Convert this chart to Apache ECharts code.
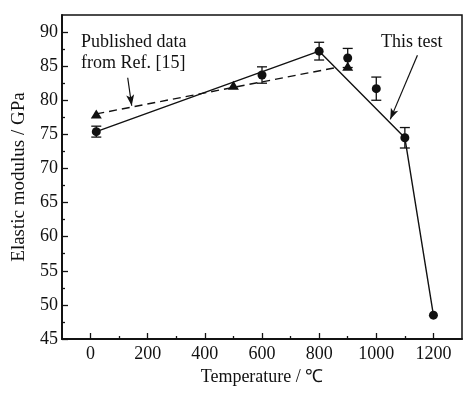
<!DOCTYPE html>
<html>
<head>
<meta charset="utf-8">
<script src="https://cdn.jsdelivr.net/npm/echarts@6/dist/echarts.min.js"></script>
<style>html,body{margin:0;padding:0;background:#fff}#c{width:471px;height:395px}</style>
</head>
<body>
<div id="c"></div>
<script>
// This test (circles with error bars)
const testTemps = [20, 600, 800, 900, 1000, 1100, 1200];
const testModulus = [75.4, 83.7, 87.2, 86.2, 81.7, 74.5, 48.5];
const testErrors = [0.8, 1.2, 1.3, 1.4, 1.7, 1.5, 0];
// Published data from Ref. [15] (triangles)
const refTemps = [20, 500, 900];
const refModulus = [78.0, 82.2, 85.0];
// Trend lines
const testLineTemps = [20, 800, 1100, 1200];
const testLineModulus = [75.4, 87.2, 74.5, 48.5];
const refLineTemps = [20, 860];
const refLineModulus = [78.0, 84.8];
// Ticks
const xMajorTicks = [0, 200, 400, 600, 800, 1000, 1200];
const xMinorTicks = [100, 300, 500, 700, 900, 1100];
const yMajorTicks = [45, 50, 55, 60, 65, 70, 75, 80, 85, 90];
const yMinorTicks = [47.5, 52.5, 57.5, 62.5, 67.5, 72.5, 77.5, 82.5, 87.5];
// Annotation arrows [from, to]
const refArrow = [[130, 83.3], [144, 79.2]];
const testArrow = [[1144, 86.6], [1049, 77.2]];

const FONT = 'Liberation Serif';
const INK = '#111';
const zip = (a, b) => a.map((v, i) => [v, b[i]]);

const chart = echarts.init(document.getElementById('c'), null, {renderer: 'canvas'});
const baseX = {type: 'value', min: -100, max: 1300, splitLine: {show: false}};
const baseY = {type: 'value', min: 45, max: 92.5, splitLine: {show: false}};
chart.setOption({
  animation: false,
  backgroundColor: '#fff',
  grid: {left: 62, right: 9, top: 15, bottom: 56, show: true, borderColor: INK, borderWidth: 1.5, backgroundColor: 'transparent'},
  xAxis: [
    Object.assign({}, baseX, {
      position: 'bottom',
      name: 'Temperature / ℃', nameLocation: 'middle', nameGap: 26,
      nameTextStyle: {fontFamily: FONT, fontSize: 18, color: INK},
      axisLine: {show: true, onZero: false, lineStyle: {color: INK, width: 1.5}},
      axisTick: {show: true, inside: true, length: 6, customValues: xMajorTicks, lineStyle: {color: INK, width: 1.3}},
      axisLabel: {show: true, customValues: xMajorTicks, margin: 6, fontFamily: FONT, fontSize: 18, color: INK, formatter: v => String(v)}
    }),
    Object.assign({}, baseX, {
      position: 'bottom',
      axisLine: {show: true, onZero: false, lineStyle: {color: INK, width: 1.5}},
      axisTick: {show: true, inside: true, length: 3, customValues: xMinorTicks, lineStyle: {color: INK, width: 1.3}},
      axisLabel: {show: false}
    })
  ],
  yAxis: [
    Object.assign({}, baseY, {
      position: 'left',
      name: 'Elastic modulus / GPa', nameLocation: 'middle', nameGap: 33,
      nameTextStyle: {fontFamily: FONT, fontSize: 19, color: INK},
      axisLine: {show: true, onZero: false, lineStyle: {color: INK, width: 1.5}},
      axisTick: {show: true, inside: true, length: 6, customValues: yMajorTicks, lineStyle: {color: INK, width: 1.3}},
      axisLabel: {show: true, customValues: yMajorTicks, margin: 4, fontFamily: FONT, fontSize: 18, color: INK}
    }),
    Object.assign({}, baseY, {
      position: 'left',
      axisLine: {show: true, onZero: false, lineStyle: {color: INK, width: 1.5}},
      axisTick: {show: true, inside: true, length: 3, customValues: yMinorTicks, lineStyle: {color: INK, width: 1.3}},
      axisLabel: {show: false}
    })
  ],
  graphic: [
    {type: 'text', left: 81, top: 33, style: {text: 'Published data', fontFamily: FONT, fontSize: 18, fill: INK}},
    {type: 'text', left: 81, top: 54, style: {text: 'from Ref. [15]', fontFamily: FONT, fontSize: 18, fill: INK}},
    {type: 'text', left: 381, top: 33, style: {text: 'This test', fontFamily: FONT, fontSize: 18, fill: INK}}
  ],
  series: [
    {
      type: 'line', data: zip(refLineTemps, refLineModulus), showSymbol: false, symbol: 'none',
      lineStyle: {color: INK, width: 1.4, type: [8, 5]}, z: 2
    },
    {
      type: 'line', data: zip(testLineTemps, testLineModulus), showSymbol: false, symbol: 'none',
      lineStyle: {color: INK, width: 1.4}, z: 2
    },
    {
      type: 'custom', data: testTemps.map((t, i) => [t, testModulus[i], testErrors[i]]),
      renderItem: function (params, api) {
        const e = api.value(2);
        if (!e) return null;
        const x = api.value(0), y = api.value(1);
        const hi = api.coord([x, y + e]);
        const lo = api.coord([x, y - e]);
        const w = 5;
        const st = {stroke: INK, lineWidth: 1.3};
        return {type: 'group', children: [
          {type: 'line', shape: {x1: hi[0], y1: hi[1], x2: lo[0], y2: lo[1]}, style: st},
          {type: 'line', shape: {x1: hi[0] - w, y1: hi[1], x2: hi[0] + w, y2: hi[1]}, style: st},
          {type: 'line', shape: {x1: lo[0] - w, y1: lo[1], x2: lo[0] + w, y2: lo[1]}, style: st}
        ]};
      }, z: 3
    },
    {
      type: 'scatter', data: zip(refTemps, refModulus), symbol: 'triangle', symbolSize: [11, 9],
      itemStyle: {color: INK, opacity: 1}, z: 4
    },
    {
      type: 'scatter', data: zip(testTemps, testModulus), symbol: 'circle', symbolSize: 9,
      itemStyle: {color: INK, opacity: 1}, z: 5
    },
    {
      type: 'line', data: [], symbol: 'none',
      markLine: {
        silent: true, symbol: ['none', 'arrow'], symbolSize: [6, 11],
        lineStyle: {color: INK, width: 1.2, type: 'solid'}, label: {show: false},
        data: [
          [{coord: refArrow[0]}, {coord: refArrow[1]}],
          [{coord: testArrow[0]}, {coord: testArrow[1]}]
        ]
      }
    }
  ]
});
</script>
</body>
</html>
